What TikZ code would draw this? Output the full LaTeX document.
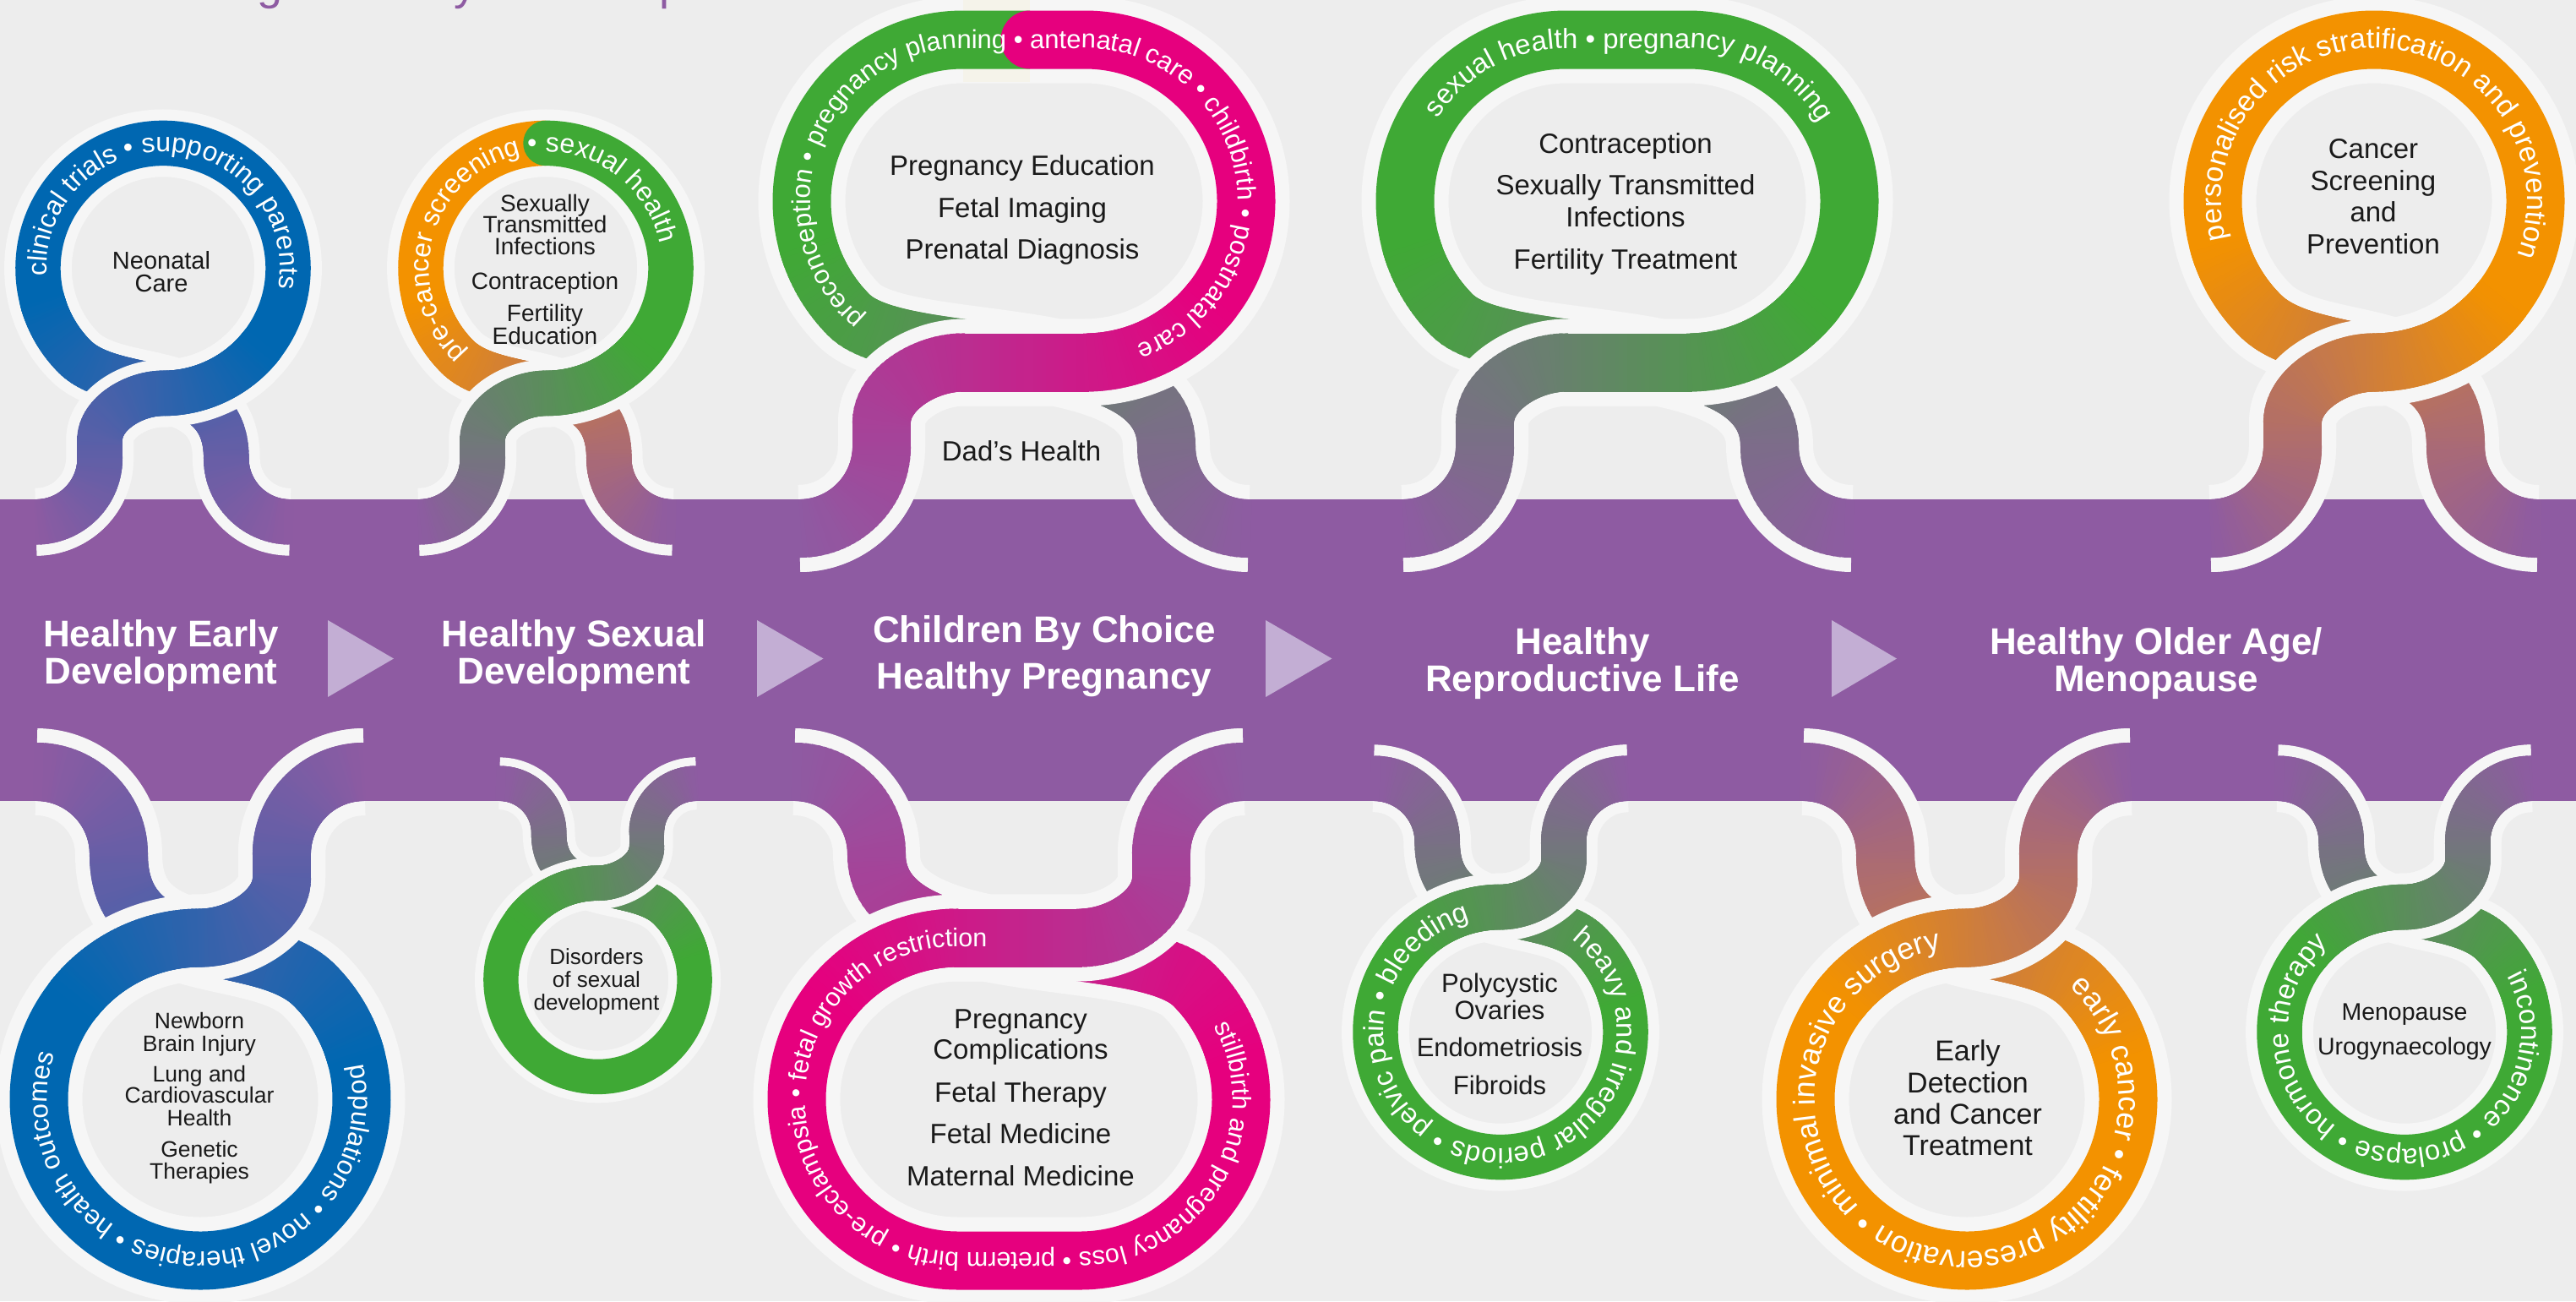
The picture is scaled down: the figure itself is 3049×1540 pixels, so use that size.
\documentclass[tikz,border=0pt]{standalone}
\usepackage{fontspec}
\setmainfont{Liberation Sans}
\usetikzlibrary{decorations.markings,decorations.text}
\definecolor{bg}{RGB}{237,237,237}
\definecolor{band}{RGB}{142,91,162}
\definecolor{wline}{RGB}{246,246,246}
\definecolor{cblue}{RGB}{0,103,177}
\definecolor{cgreen}{RGB}{63,169,53}
\definecolor{corange}{RGB}{243,146,0}
\definecolor{cmag}{RGB}{230,0,126}
\definecolor{arrowc}{RGB}{195,174,212}
\definecolor{ink}{RGB}{26,26,26}
\definecolor{cream}{RGB}{245,243,234}
\definecolor{titlec}{RGB}{142,91,162}

% loop parameters: cx, sign (+1 top, -1 bottom), scale, half stretch, band edge y
\newcommand\Lset[5]{\def\Lcx{#1}\def\Lsg{#2}\def\Lk{#3}\def\Ls{#4}\def\LY{#5}%
  \ifdim#4pt>0pt \def\LFlatA{-- \LP{\Ls}{162}}\def\LFlatB{-- \LP{-\Ls}{544}}\else\def\LFlatA{}\def\LFlatB{}\fi}
\newcommand\LP[2]{({\Lcx+\Lsg*\Lk*(#1)},{\LY-\Lsg*\Lk*(#2)})}
\newcommand\LA[1]{90*(1-\Lsg)-(#1)}
\def\PthLeg{\LP{-\Ls-194}{-34.5} arc[start angle={\LA{-90}}, end angle={\LA{0}}, radius={\Lk*97.5}] -- \LP{-\Ls-96.5}{91} .. controls \LP{-\Ls-96.5}{130} and \LP{-\Ls-45}{162} .. \LP{-\Ls}{162} \LFlatA}
\def\PthRing{arc[start angle={\LA{-90}}, end angle={\LA{90}}, radius={\Lk*191}] \LFlatB arc[start angle={\LA{90}}, end angle={\LA{225}}, radius={\Lk*191}]}
\def\PthU{.. controls \LP{-\Ls-71.4}{154.4} and \LP{\Ls+96.5}{200} .. \LP{\Ls+96.5}{63} arc[start angle={\LA{180}}, end angle={\LA{270}}, radius={\Lk*97.5}]}

\tikzset{
  wl/.style={draw=wline, line width=\Lk*103pt, line join=round},
  rg/.style={line width=\Lk*69pt, line join=round},
  grad/.style n args={3}{decorate, decoration={markings,
      mark=between positions 0.004 and 1 step 0.008 with {%
        \pgfmathtruncatemacro\gp{min(100,(\pgfkeysvalueof{/pgf/decoration/mark info/sequence number}-0.5)*0.8)}%
        \pgfmathsetlengthmacro\ghw{#3}%
        \fill[fill=#2!\gp!#1] (-5.5pt,-\ghw) rectangle (5.5pt,\ghw);}}},
  ringtext/.style n args={3}{decorate, decoration={text along path,
      text={|\fontsize{#2}{#2}\selectfont\color{white}|#1}, text align=#3, text color=white}},
  ctext/.style={text=ink, anchor=base, inner sep=0pt},
  btext/.style={text=white, anchor=base, inner sep=0pt, font=\bfseries\fontsize{44}{44}\selectfont},
  titleg/.style={anchor=base west, inner sep=0pt, text=titlec, font=\fontsize{54}{54}\selectfont}
}

\newcommand\LWhite{\draw[wl] \PthLeg \PthRing \PthU;}
\newcommand\LUnder[1]{\path[grad={#1}{band}{\Lk*34.5pt}] \LP{-\Ls+191*cos(195)}{353+191*sin(195)} arc[start angle={\LA{195}}, end angle={\LA{225}}, radius={\Lk*191}] \PthU;}
\newcommand\LOver[1]{\draw[wl] \PthLeg arc[start angle={\LA{-90}}, end angle={\LA{-45}}, radius={\Lk*191}];
  \path[grad={band}{#1}{\Lk*34.5pt}] \PthLeg arc[start angle={\LA{-90}}, end angle={\LA{-38}}, radius={\Lk*191}];}
\newcommand\LoopOne[1]{\LWhite
  \draw[rg, draw=#1] \LP{\Ls+191*cos(-40)}{353+191*sin(-40)} arc[start angle={\LA{-40}}, end angle={\LA{90}}, radius={\Lk*191}] \LFlatB arc[start angle={\LA{90}}, end angle={\LA{200}}, radius={\Lk*191}];
  \LUnder{#1}\LOver{#1}}
% text on circular ring: text, size, mid angle, half span, inward offset
\newcommand\CircText[5]{\path[ringtext={#1}{#2}{center}] ({\Lcx+(\Lk*191-#5)*cos(#3-#4)},{\LY-\Lsg*\Lk*353+(\Lk*191-#5)*sin(#3-#4)}) arc[start angle={#3-#4}, end angle={#3+#4}, radius={\Lk*191-#5}];}

\begin{document}
\begin{tikzpicture}[x=1pt,y=-1pt,line cap=butt]
\useasboundingbox (0,0) rectangle (3049,1540);
\clip (0,0) rectangle (3049,1540);
\fill[bg] (0,0) rectangle (3049,1540);
\fill[band] (0,591) rectangle (3049,948);

% cut-off title
\node[titleg] (tg1) at (304,-1) {g};
\node[titleg] (tg2) at (537,-1) {y};
\node[titleg] (tg3) at (780,-1) {p};

% arrows on the band
\fill[arrowc] (388,734) -- (388,825) -- (466,779.5) -- cycle;
\fill[arrowc] (896,734) -- (896,825) -- (974.5,779.5) -- cycle;
\fill[arrowc] (1498,734) -- (1498,825) -- (1576.5,779.5) -- cycle;
\fill[arrowc] (2168,734) -- (2168,825) -- (2245,779.5) -- cycle;

% band labels
\node[btext] (b1a) at (190.5,765) {Healthy Early};
\node[btext] (b1b) at (190.5,809) {Development};
\node[btext] (b2a) at (679.5,765) {Healthy Sexual};
\node[btext] (b2b) at (679.5,809) {Development};
\node[btext] (b3a) at (1236,760) {Children By Choice};
\node[btext] (b3b) at (1236,815) {Healthy Pregnancy};
\node[btext] (b4a) at (1873,774) {Healthy};
\node[btext] (b4b) at (1873,818) {Reproductive Life};
\node[btext] (b5a) at (2552,774) {Healthy Older Age/};
\node[btext] (b5b) at (2552,818) {Menopause};

% ---------- top loop 1 ----------
\Lset{193}{1}{0.775}{0}{591}
\LoopOne{cblue}
\CircText{clinical trials • supporting parents}{32}{273}{125}{10}
\begin{scope}[every node/.style={ctext, font=\fontsize{29}{29}\selectfont}]
\node (n1a) at (191,318) {Neonatal};
\node (n1b) at (191,345) {Care};
\end{scope}

% ---------- top loop 2 ----------
\Lset{646}{1}{0.775}{0}{591}
\LWhite
\draw[rg, draw=corange] \LP{0}{544} arc[start angle={\LA{90}}, end angle={\LA{200}}, radius={\Lk*191}];
\LUnder{corange}
\draw[rg, draw=cgreen, line cap=round] \LP{191*cos(-40)}{353+191*sin(-40)} arc[start angle={\LA{-40}}, end angle={\LA{90}}, radius={\Lk*191}];
\LOver{cgreen}
\CircText{pre-cancer screening • sexual health}{32}{240.5}{130}{10}
\begin{scope}[every node/.style={ctext, font=\fontsize{28}{28}\selectfont}]
\node (n2a) at (645,250) {Sexually};
\node (n2b) at (645,275) {Transmitted};
\node (n2c) at (645,301) {Infections};
\node (n2d) at (645,342) {Contraception};
\node (n2e) at (645,380) {Fertility};
\node (n2f) at (645,407) {Education};
\end{scope}

% ---------- top loop 3 ----------
\Lset{1212}{1}{1}{72}{591}
\LWhite
\fill[cream] (1140,0) rectangle (1219,97);
\draw[rg, draw=cgreen] \LP{7}{544} -- \LP{-72}{544} arc[start angle={\LA{90}}, end angle={\LA{200}}, radius={\Lk*191}];
\LUnder{cgreen}
\draw[rg, draw=cmag, line cap=round] \LP{72+191*cos(-40)}{353+191*sin(-40)} arc[start angle={\LA{-40}}, end angle={\LA{90}}, radius={\Lk*191}] -- \LP{7}{544};
\LOver{cmag}
\path[ringtext={preconception • pregnancy planning • antenatal care • childbirth • postnatal care}{31}{left}] ({1140+181*cos(130)},{238+181*sin(130)}) arc[start angle=130, end angle=270, radius=181] -- (1284,57) arc[start angle=270, end angle=450, radius=181];
\begin{scope}[every node/.style={ctext, font=\fontsize{33}{33}\selectfont}]
\node (n3a) at (1210,207.6) {Pregnancy Education};
\node (n3b) at (1210,257) {Fetal Imaging};
\node (n3c) at (1210,306.4) {Prenatal Diagnosis};
\node (n3d) at (1209,545) {Dad’s Health};
\end{scope}

% ---------- top loop 4 ----------
\Lset{1926}{1}{1}{72}{591}
\LoopOne{cgreen}
\path[ringtext={sexual health • pregnancy planning}{33}{left}] ({1854+181*cos(212.7)},{238+181*sin(212.7)}) arc[start angle=212.7, end angle=270, radius=181] -- (1998,57) arc[start angle=270, end angle=400, radius=181];
\begin{scope}[every node/.style={ctext, font=\fontsize{33}{33}\selectfont}]
\node (n4a) at (1924,181) {Contraception};
\node (n4b) at (1924,230) {Sexually Transmitted};
\node (n4c) at (1924,268) {Infections};
\node (n4d) at (1924,318) {Fertility Treatment};
\end{scope}

% ---------- top loop 5 ----------
\Lset{2810}{1}{1}{0}{591}
\LoopOne{corange}
\CircText{personalised risk stratification and prevention}{34}{273.2}{130}{10}
\begin{scope}[every node/.style={ctext, font=\fontsize{33}{33}\selectfont}]
\node (n5a) at (2809,187.5) {Cancer};
\node (n5b) at (2809,225.4) {Screening};
\node (n5c) at (2809,262.5) {and};
\node (n5d) at (2809,300) {Prevention};
\end{scope}

% ---------- bottom loop 1 ----------
\Lset{237}{-1}{1}{0}{948}
\LoopOne{cblue}
\CircText{populations • novel therapies • health outcomes}{31.5}{452.4}{130}{10}
\begin{scope}[every node/.style={ctext, font=\fontsize{26.5}{26.5}\selectfont}]
\node (m1a) at (236,1217) {Newborn};
\node (m1b) at (236,1244) {Brain Injury};
\node (m1c) at (236,1280) {Lung and};
\node (m1d) at (236,1305.6) {Cardiovascular};
\node (m1e) at (236,1332.4) {Health};
\node (m1f) at (236,1369) {Genetic};
\node (m1g) at (236,1395) {Therapies};
\end{scope}

% ---------- bottom loop 2 ----------
\Lset{707.5}{-1}{0.6}{0}{948}
\LoopOne{cgreen}
\begin{scope}[every node/.style={ctext, font=\fontsize{26}{26}\selectfont}]
\node (m2a) at (706,1141) {Disorders};
\node (m2b) at (706,1168) {of sexual};
\node (m2c) at (706,1195) {development};
\end{scope}

% ---------- bottom loop 3 ----------
\Lset{1206}{-1}{1}{72}{948}
\LoopOne{cmag}
\path[ringtext={stillbirth and pregnancy loss • preterm birth • pre-eclampsia • fetal growth restriction}{30.5}{left}] ({1278+181*cos(331.3)},{1301+181*sin(331.3)}) arc[start angle=331.3, end angle=450, radius=181] -- (1134,1482) arc[start angle=90, end angle=270, radius=181] -- (1320,1120);
\begin{scope}[every node/.style={ctext, font=\fontsize{33}{33}\selectfont}]
\node (m3a) at (1208,1217) {Pregnancy};
\node (m3b) at (1208,1253) {Complications};
\node (m3c) at (1208,1304) {Fetal Therapy};
\node (m3d) at (1208,1353.4) {Fetal Medicine};
\node (m3e) at (1208,1403.4) {Maternal Medicine};
\end{scope}

% ---------- bottom loop 4 ----------
\Lset{1776}{-1}{0.775}{0}{948}
\LoopOne{cgreen}
\CircText{heavy and irregular periods • pelvic pain • bleeding}{33}{461.2}{170}{10}
\begin{scope}[every node/.style={ctext, font=\fontsize{31}{31}\selectfont}]
\node (m4a) at (1775,1174) {Polycystic};
\node (m4b) at (1775,1206) {Ovaries};
\node (m4c) at (1775,1250.7) {Endometriosis};
\node (m4d) at (1775,1295) {Fibroids};
\end{scope}

% ---------- bottom loop 5 ----------
\Lset{2328}{-1}{1}{0}{948}
\LoopOne{corange}
\CircText{early cancer • fertility preservation • minimal invasive surgery}{36}{466.35}{170}{11}
\begin{scope}[every node/.style={ctext, font=\fontsize{34}{34}\selectfont}]
\node (m5a) at (2329,1255) {Early};
\node (m5b) at (2329,1293) {Detection};
\node (m5c) at (2329,1330) {and Cancer};
\node (m5d) at (2329,1367.7) {Treatment};
\end{scope}

% ---------- bottom loop 6 ----------
\Lset{2846}{-1}{0.775}{0}{948}
\LoopOne{cgreen}
\CircText{incontinence • prolapse • hormone therapy}{33}{460.35}{150}{10}
\begin{scope}[every node/.style={ctext, font=\fontsize{28.5}{28.5}\selectfont}]
\node (m6a) at (2846,1207) {Menopause};
\node (m6b) at (2846,1248.5) {Urogynaecology};
\end{scope}
\end{tikzpicture}
\end{document}
